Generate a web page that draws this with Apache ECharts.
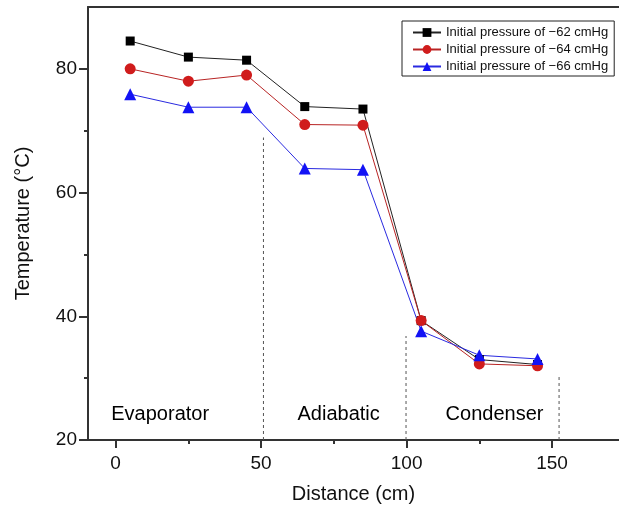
<!DOCTYPE html>
<html>
<head>
<meta charset="utf-8">
<script src="https://cdn.jsdelivr.net/npm/echarts@6/dist/echarts.min.js"></script>
<style>
html, body { margin: 0; padding: 0; background: #fff; }
#main { width: 619px; height: 509px; }
</style>
</head>
<body>
<div id="main"></div>
<script>
// data
var distance = [5, 25, 45, 65, 85, 105, 125, 145];
var p62 = [84.5, 81.9, 81.4, 73.9, 73.5, 39.3, 33.0, 32.2];
var p64 = [80.0, 78.0, 79.0, 71.0, 70.9, 39.3, 32.3, 32.0];
var p66 = [75.9, 73.8, 73.8, 63.9, 63.7, 37.6, 33.7, 33.1];
var seriesNames = ['Initial pressure of \u221262 cmHg', 'Initial pressure of \u221264 cmHg', 'Initial pressure of \u221266 cmHg'];

var xMajorTicks = [0, 50, 100, 150];
var xMinorTicks = [25, 75, 125];
var yMajorTicks = [20, 40, 60, 80];
var yMinorTicks = [30, 50, 70];

// section dividers (x, top of dashed line) and section names
var dividerX = [50.8, 99.8, 152.4];
var dividerTop = [68.9, 36.8, 30.4];
var regionNames = ['Evaporator', 'Adiabatic', 'Condenser'];
var regionX = [-1.5, 62.5, 113.4];
var regionY = 24.2;

var font = 'Liberation Sans, Arial, sans-serif';
var axisColor = '#333';

function pairs(xs, ys) {
    return xs.map(function (x, i) { return [x, ys[i]]; });
}

var chart = echarts.init(document.getElementById('main'));

var series = [
    {
        name: seriesNames[0],
        type: 'line',
        data: pairs(distance, p62),
        symbol: 'rect',
        symbolSize: 9,
        itemStyle: { color: '#000' },
        lineStyle: { color: '#222', width: 1 }
    },
    {
        name: seriesNames[1],
        type: 'line',
        data: pairs(distance, p64),
        symbol: 'circle',
        symbolSize: 11,
        itemStyle: { color: '#d01c1c' },
        lineStyle: { color: '#b82424', width: 1 }
    },
    {
        name: seriesNames[2],
        type: 'line',
        data: pairs(distance, p66),
        symbol: 'triangle',
        symbolSize: 12,
        itemStyle: { color: '#1212f5' },
        lineStyle: { color: '#2a2ae0', width: 1 }
    },
    {
        // section names
        type: 'scatter',
        silent: true,
        symbolSize: 0,
        itemStyle: { opacity: 1, color: 'transparent' },
        data: regionX.map(function (x) { return [x, regionY]; }),
        label: {
            show: true,
            position: 'right',
            distance: 0,
            color: '#000',
            fontSize: 20,
            fontFamily: font,
            formatter: function (p) { return regionNames[p.dataIndex]; }
        }
    }
];

// dashed dividers
dividerX.forEach(function (x, i) {
    series.push({
        type: 'line',
        silent: true,
        symbol: 'none',
        data: [[x, 20], [x, dividerTop[i]]],
        lineStyle: { color: '#555', width: 1, type: [3, 3] }
    });
});

var option = {
    animation: false,
    backgroundColor: '#fff',
    grid: { left: 88, top: 7, right: 0, bottom: 65 },
    legend: {
        data: seriesNames,
        orient: 'vertical',
        left: 402,
        top: 21,
        itemWidth: 28,
        itemHeight: 11,
        itemGap: 4,
        padding: [5, 6, 3, 10],
        borderColor: '#222',
        borderWidth: 1,
        textStyle: { fontSize: 13, fontFamily: font, color: '#111' }
    },
    xAxis: [
        {
            type: 'value',
            min: -9.5,
            max: 173,
            name: 'Distance (cm)',
            nameLocation: 'middle',
            nameGap: 44,
            nameTextStyle: { fontSize: 20, fontFamily: font, color: '#111' },
            splitLine: { show: false },
            axisLine: { onZero: false, lineStyle: { color: axisColor, width: 2 } },
            axisTick: { customValues: xMajorTicks, length: 8, lineStyle: { color: axisColor, width: 2 } },
            axisLabel: { customValues: xMajorTicks, margin: 14, fontSize: 19, fontFamily: font, color: '#111' }
        },
        {
            // minor ticks
            type: 'value',
            position: 'bottom',
            min: -9.5,
            max: 173,
            splitLine: { show: false },
            axisLine: { show: false, onZero: false },
            axisLabel: { show: false },
            axisTick: { customValues: xMinorTicks, length: 4, lineStyle: { color: axisColor, width: 2 } }
        },
        {
            // top frame line
            type: 'value',
            position: 'top',
            min: -9.5,
            max: 173,
            splitLine: { show: false },
            axisLine: { onZero: false, lineStyle: { color: axisColor, width: 2 } },
            axisLabel: { show: false },
            axisTick: { show: false }
        }
    ],
    yAxis: [
        {
            type: 'value',
            min: 20,
            max: 90,
            name: 'Temperature (\u00b0C)',
            nameLocation: 'middle',
            nameGap: 55,
            nameTextStyle: { fontSize: 20, fontFamily: font, color: '#111' },
            splitLine: { show: false },
            axisLine: { show: true, onZero: false, lineStyle: { color: axisColor, width: 2 } },
            axisTick: { show: true, customValues: yMajorTicks, length: 9, lineStyle: { color: axisColor, width: 2 } },
            axisLabel: { customValues: yMajorTicks, margin: 11, fontSize: 19, fontFamily: font, color: '#111' }
        },
        {
            // minor ticks
            type: 'value',
            position: 'left',
            min: 20,
            max: 90,
            splitLine: { show: false },
            axisLine: { show: false, onZero: false },
            axisLabel: { show: false },
            axisTick: { show: true, customValues: yMinorTicks, length: 4, lineStyle: { color: axisColor, width: 2 } }
        }
    ],
    series: series
};

chart.setOption(option);
</script>
</body>
</html>
